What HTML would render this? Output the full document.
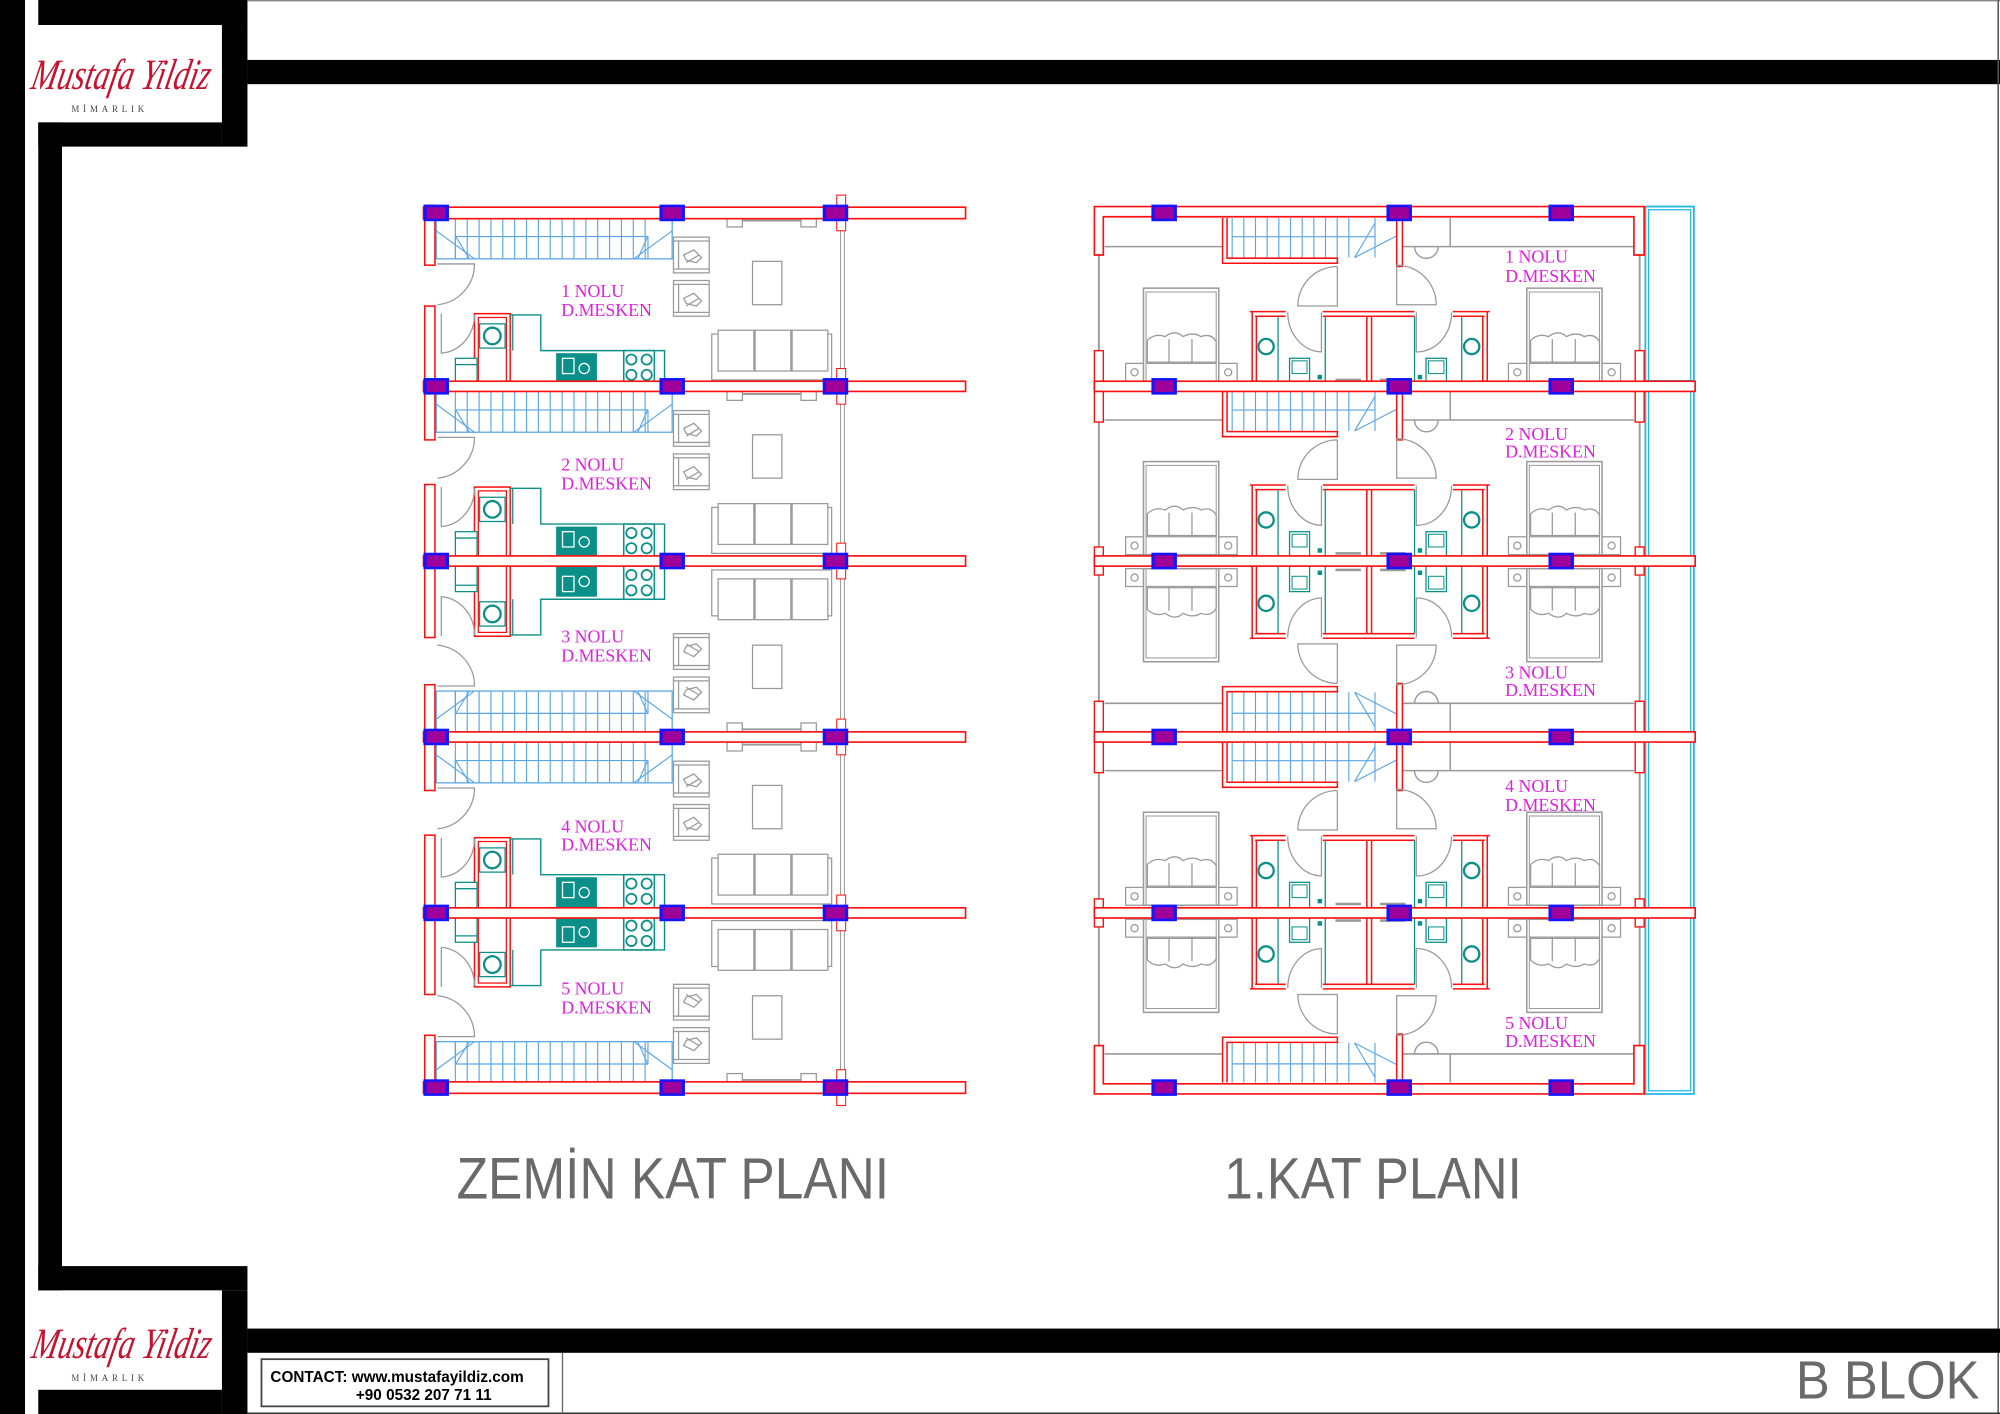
<!DOCTYPE html>
<html><head><meta charset="utf-8"><style>
html,body{margin:0;padding:0;background:#fff;}
svg{display:block;}
</style></head><body>
<svg id="s" xmlns="http://www.w3.org/2000/svg" width="2000" height="1414" viewBox="0 0 1568 1109" preserveAspectRatio="none">
<rect x="0" y="0" width="1568" height="1109" fill="#fff"/>
<!-- frame -->
<rect x="0" y="0" width="19.6" height="1109" fill="#000"/>
<rect x="30" y="0" width="164" height="19.6" fill="#000"/>
<rect x="174" y="19.6" width="20" height="95.4" fill="#000"/>
<rect x="30" y="96" width="144" height="19" fill="#000"/>
<rect x="30" y="96" width="18.6" height="916" fill="#000"/>
<rect x="194" y="47" width="1374" height="19" fill="#000"/>
<line x1="194" y1="0.6" x2="1568" y2="0.6" stroke="#777" stroke-width="1"/>
<line x1="1566.6" y1="0" x2="1566.6" y2="1109" stroke="#555" stroke-width="1.2"/>
<rect x="30" y="993" width="164" height="19" fill="#000"/>
<rect x="174" y="1012" width="20" height="97" fill="#000"/>
<rect x="30" y="1090" width="144" height="19" fill="#000"/>
<rect x="194" y="1042" width="1374" height="19" fill="#000"/>
<line x1="194" y1="1108.4" x2="1568" y2="1108.4" stroke="#333" stroke-width="1.2"/>
<line x1="441" y1="1061" x2="441" y2="1109" stroke="#666" stroke-width="1"/>
<rect x="205" y="1066" width="225" height="37" fill="#fff" stroke="#444" stroke-width="1.4"/>
<text x="212" y="1084" font-family="Liberation Sans, sans-serif" font-weight="bold" font-size="12" fill="#000">CONTACT:  www.mustafayildiz.com</text>
<text x="279" y="1098" font-family="Liberation Sans, sans-serif" font-weight="bold" font-size="12" fill="#000">+90 0532 207 71 11</text>
<!-- logos -->
<g font-family="Liberation Serif, serif">
<text x="24" y="70" font-style="italic" font-size="34" fill="#c4122f" transform="skewX(-12) translate(14,0)" textLength="140" lengthAdjust="spacingAndGlyphs">Mustafa Yildiz</text>
<text x="56" y="88" font-size="7" fill="#444" letter-spacing="3">MİMARLIK</text>
<text x="24" y="1065" font-style="italic" font-size="34" fill="#c4122f" transform="skewX(-12) translate(226,0)" textLength="140" lengthAdjust="spacingAndGlyphs">Mustafa Yildiz</text>
<text x="56" y="1083" font-size="7" fill="#444" letter-spacing="3">MİMARLIK</text>
</g>
<g id="plans"></g>
<!-- labels -->
<g font-family="Liberation Serif, serif" font-size="14" fill="#e020e0">
<text x="440" y="233">1 NOLU</text><text x="440" y="248">D.MESKEN</text>
<text x="440" y="369">2 NOLU</text><text x="440" y="384">D.MESKEN</text>
<text x="440" y="504">3 NOLU</text><text x="440" y="519">D.MESKEN</text>
<text x="440" y="653">4 NOLU</text><text x="440" y="667">D.MESKEN</text>
<text x="440" y="780">5 NOLU</text><text x="440" y="795">D.MESKEN</text>
<text x="1180" y="206">1 NOLU</text><text x="1180" y="221">D.MESKEN</text>
<text x="1180" y="345">2 NOLU</text><text x="1180" y="359">D.MESKEN</text>
<text x="1180" y="532">3 NOLU</text><text x="1180" y="546">D.MESKEN</text>
<text x="1180" y="621">4 NOLU</text><text x="1180" y="636">D.MESKEN</text>
<text x="1180" y="807">5 NOLU</text><text x="1180" y="821">D.MESKEN</text>
</g>
<g font-family="Liberation Sans, sans-serif" fill="#6a6a6a">
<text x="358" y="940" font-size="46" textLength="339" lengthAdjust="spacingAndGlyphs">ZEMİN KAT PLANI</text>
<text x="960" y="940" font-size="46" textLength="233" lengthAdjust="spacingAndGlyphs">1.KAT PLANI</text>
<text x="1408" y="1097" font-size="42" textLength="144" lengthAdjust="spacingAndGlyphs">B BLOK</text>
</g>
</svg>
<script>
(function(){
var NS="http://www.w3.org/2000/svg";
var root=document.getElementById("plans");
function el(p,t,a){var e=document.createElementNS(NS,t);for(var k in a)e.setAttribute(k,a[k]);p.appendChild(e);return e;}
var RED="#ff1010",TEAL="#0a9088",BL="#5aa6e6",GR="#9a9a9a";
function R(p,x,y,w,h,st,fill,sw){return el(p,"rect",{x:x,y:y,width:w,height:h,fill:fill||"none",stroke:st||"none","stroke-width":sw||1});}
function L(p,x1,y1,x2,y2,st,sw){return el(p,"line",{x1:x1,y1:y1,x2:x2,y2:y2,stroke:st,"stroke-width":sw||1});}
function P(p,d,st,fill,sw){return el(p,"path",{d:d,stroke:st,fill:fill||"none","stroke-width":sw||1});}
function wallH(p,x1,x2,y,h){R(p,x1,y-h/2,x2-x1,h,RED,"#fff",1.3);}
function col(p,cx,cy){R(p,cx-10,cy-6.5,20,13,"none","#1414ff");R(p,cx-7.5,cy-4.5,15,9,"none","#a0009a");}
function armchair(p,x,y){R(p,x,y,28,28,GR,"#fff",1);L(p,x+4,y+3,x+4,y+25,GR);L(p,x,y+25,x+28,y+25,GR);L(p,x,y+3,x+28,y+3,GR);
 P(p,"M"+(x+8)+" "+(y+14)+" l8 -4 l6 6 l-4 4 l-8 -2 z",GR,"#fff",1);P(p,"M"+(x+10)+" "+(y+20)+" l10 -6",GR);}
var units=[{w:167,f:false},{w:303,f:false},{w:578,f:true},{w:578,f:false},{w:853,f:true}];
var rows=[167,303,440,578,716,853];
/* ===== LEFT PLAN ===== */
var Lg=el(root,"g",{});
// glass facade
R(Lg,659,171,3,682,GR,"#fff",0.8);
units.forEach(function(u){
 var g=el(Lg,"g",{transform:"translate(0,"+u.w+")"+(u.f?" scale(1,-1)":"")});
 // stair
 R(g,342,4,185,32,BL,"none",1);
 for(var x=357;x<=512;x+=9.3)L(g,x,4,x,36,BL,0.9);
 L(g,357,18.5,508,18.5,BL,0.9);L(g,357,18.5,357,36,BL,0.9);L(g,508,18.5,508,36,BL,0.9);
 L(g,342,14,372,36,BL,0.9);L(g,357,18,368,36,BL,0.9);L(g,527,14,497,36,BL,0.9);L(g,508,18,500,36,BL,0.9);
 // entrance door
 P(g,"M343 40 L372 40 A32 32 0 0 1 343 72",GR,"none",1);
 // wc box
 R(g,372,79,28,57,RED,"none",1.2);R(g,375,82,22,54,RED,"none",1);
 R(g,376,87,20,19,TEAL,"#fff",1);el(g,"circle",{cx:386,cy:96.5,r:6.5,fill:"none",stroke:TEAL,"stroke-width":1.8});
 P(g,"M346 79 L346 110 A28 30 0 0 0 372 80",GR,"none",1);
 R(g,357,114,17,20,TEAL,"#fff",1);L(g,357,119,374,119,TEAL);
 // counter
 P(g,"M400 80 L424 80 L424 108 L521 108 L521 136",TEAL,"none",1.1);L(g,402,80,402,108,TEAL);
 R(g,436,110,32,24,"none",TEAL);R(g,441,114,9,12,"#fff","none",1);el(g,"circle",{cx:458,cy:122,r:4,fill:"none",stroke:"#fff","stroke-width":1});
 R(g,489,108,24,26,TEAL,"#fff",1.2);
 [[495,115],[507,115],[495,127],[507,127]].forEach(function(c){el(g,"circle",{cx:c[0],cy:c[1],r:4,fill:"none",stroke:TEAL,"stroke-width":1.4});});
 // furniture
 armchair(g,528,19);armchair(g,528,53);
 R(g,590,38,23,34,GR,"#fff",1);
 R(g,558,95,94,36,GR,"#fff",1);
 for(var i=0;i<3;i++)R(g,563+i*29,92,28,32,GR,"#fff",1);
 // facade window near stair wall
 R(g,570,4,12,7,GR,"#fff",1);R(g,628,4,12,7,GR,"#fff",1);L(g,582,6,628,6,GR,1.5);
});
// left outer wall segments
[[161,208],[240,345],[380,500],[537,620],[655,780],[812,858]].forEach(function(s){R(Lg,333,s[0],8,s[1]-s[0],RED,"#fff",1.2);});
rows.forEach(function(y,i){wallH(Lg,332,757,y,(i==0||i==5)?9:8);R(Lg,656,y-14,7,28,RED,"#fff",0.8);});
rows.forEach(function(y){col(Lg,342,y);col(Lg,527,y);col(Lg,655,y);});
/* ===== RIGHT PLAN ===== */
var Rg=el(root,"g",{});
// cyan balcony
R(Rg,1290,162,38,696,"#20b8e8","none",1.4);R(Rg,1292.5,164.5,33,691,"#20b8e8","none",1);
[300,578].forEach(function(y){L(Rg,1290,y-1.5,1328,y-1.5,"#20b8e8",1);L(Rg,1290,y+1.5,1328,y+1.5,"#20b8e8",1);});
// side gray
L(Rg,861.5,170,861.5,853,GR,1.5);L(Rg,1285.5,170,1285.5,853,GR,1.5);
units.forEach(function(u){
 var g=el(Rg,"g",{transform:"translate(0,"+u.w+")"+(u.f?" scale(1,-1)":"")});
 L(g,866,26.4,958.5,26.4,GR,1.2);L(g,1099.5,26.4,1281,26.4,GR,1.2);L(g,1137,4,1137,26.4,GR,1.2);
 // stair
 for(var x=966;x<=1066;x+=9.15)L(g,x,4,x,35,BL,0.9);
 L(g,966,18.6,1078,18.6,BL,0.9);L(g,1078,4,1078,35,BL,0.9);
 L(g,1062,35,1078,8,BL,0.9);L(g,1062,35,1095,18,BL,0.9);
 P(g,"M958.5 4 L958.5 39.5 L1048.5 39.5 L1048.5 35.5 L962 35.5 L962 4",RED,"#fff",1.2);
 R(g,1095,4,4.5,38,RED,"#fff",1.2);
 // half circle
 P(g,"M1109 26.4 A9 9 0 0 0 1127.5 26.4",GR,"none",1.1);
 // doors
 P(g,"M1048.5 42 L1048.5 73 L1017.5 73 A31 31 0 0 1 1048.5 42",GR,"none",1);
 P(g,"M1095 41 L1095 72 L1126 72 A31 31 0 0 0 1095 41",GR,"none",1);
 // bath
 R(g,980,77.4,187.7,60,"none","none");
 L(g,981.7,77.4,981.7,136,RED,1.2);L(g,985,81,985,136,RED,1.2);
 L(g,1166,77.4,1166,136,RED,1.2);L(g,1162.5,81,1162.5,136,RED,1.2);
 [[980,1008],[1037,1109],[1139,1168]].forEach(function(s){L(g,s[0],77.4,s[1],77.4,RED,1.2);L(g,s[0]+(s[0]==980?4:0),81,s[1]-(s[1]==1168?4:0),81,RED,1.2);});
 L(g,1071.6,81,1071.6,136,RED,1.2);L(g,1075.3,81,1075.3,136,RED,1.2);
 [1002,1039,1109,1146].forEach(function(x){L(g,x,81,x,136,TEAL,1);});
 el(g,"circle",{cx:992.6,cy:104.8,r:6,fill:"none",stroke:TEAL,"stroke-width":1.8});
 el(g,"circle",{cx:1153.8,cy:104.8,r:6,fill:"none",stroke:TEAL,"stroke-width":1.8});
 R(g,1011,114,15.7,22,TEAL,"#fff",1);R(g,1013,116,11.7,10,TEAL,"none",0.8);
 R(g,1118,114,16,22,TEAL,"#fff",1);R(g,1120,116,12,10,TEAL,"none",0.8);
 R(g,1033,127,3.5,3.5,"none",TEAL);R(g,1111.5,127,3.5,3.5,"none",TEAL);
 R(g,1047,130,20,2,"none","#999");R(g,1082,130,20,2,"none","#999");
 P(g,"M1036 78 L1036 109 A27 31 0 0 1 1009.6 78",GR,"none",1);
 P(g,"M1110.4 78 L1110.4 109 A27 31 0 0 0 1138 78",GR,"none",1);
 // beds
 [[896.5,882.5,955.4],[1197,1182.6,1256]].forEach(function(b){
  var bx=b[0];
  R(g,b[1],118,b[2]+14.5-b[1],14,GR,"#fff",1);
  el(g,"circle",{cx:b[1]+7,cy:125,r:2.8,fill:"none",stroke:GR});el(g,"circle",{cx:b[2]+7.5,cy:125,r:2.8,fill:"none",stroke:GR});
  R(g,bx,59,59,73,GR,"#fff",1.2);R(g,bx+2,62,55,70,GR,"none",0.8);
  L(g,bx+2,118,bx+57,118,GR,1);
  P(g,"M"+(bx+3)+" 100 q6 -6 14 -3 q8 -6 14 0 q8 -4 14 0 q8 -3 12 4 l0 16 l-54 0 z",GR,"#fff",1);
  L(g,bx+20,99,bx+20,118,GR);L(g,bx+38,99,bx+38,118,GR);
 });
});
// walls
function uwall(y,d){ // d=1 top, -1 bottom
 P(Rg,"M858 "+(y+33*d)+" L858 "+(y-5*d)+" L1289 "+(y-5*d)+" L1289 "+(y+33*d)+" L1281 "+(y+33*d)+" L1281 "+(y+3*d)+" L865 "+(y+3*d)+" L865 "+(y+33*d)+" Z",RED,"#fff",1.3);
}
uwall(167,1);uwall(853,-1);
[303,440,578,716].forEach(function(y){
 var c=(y==303||y==578)?28:11;
 R(Rg,858,y-c,7,2*c,RED,"#fff",1.1);R(Rg,1282,y-c,7,2*c,RED,"#fff",1.1);
 wallH(Rg,858,1329,y,8);
});
rows.forEach(function(y){col(Rg,912.7,y);col(Rg,1097,y);col(Rg,1224,y);});
})();
</script>
</body></html>
